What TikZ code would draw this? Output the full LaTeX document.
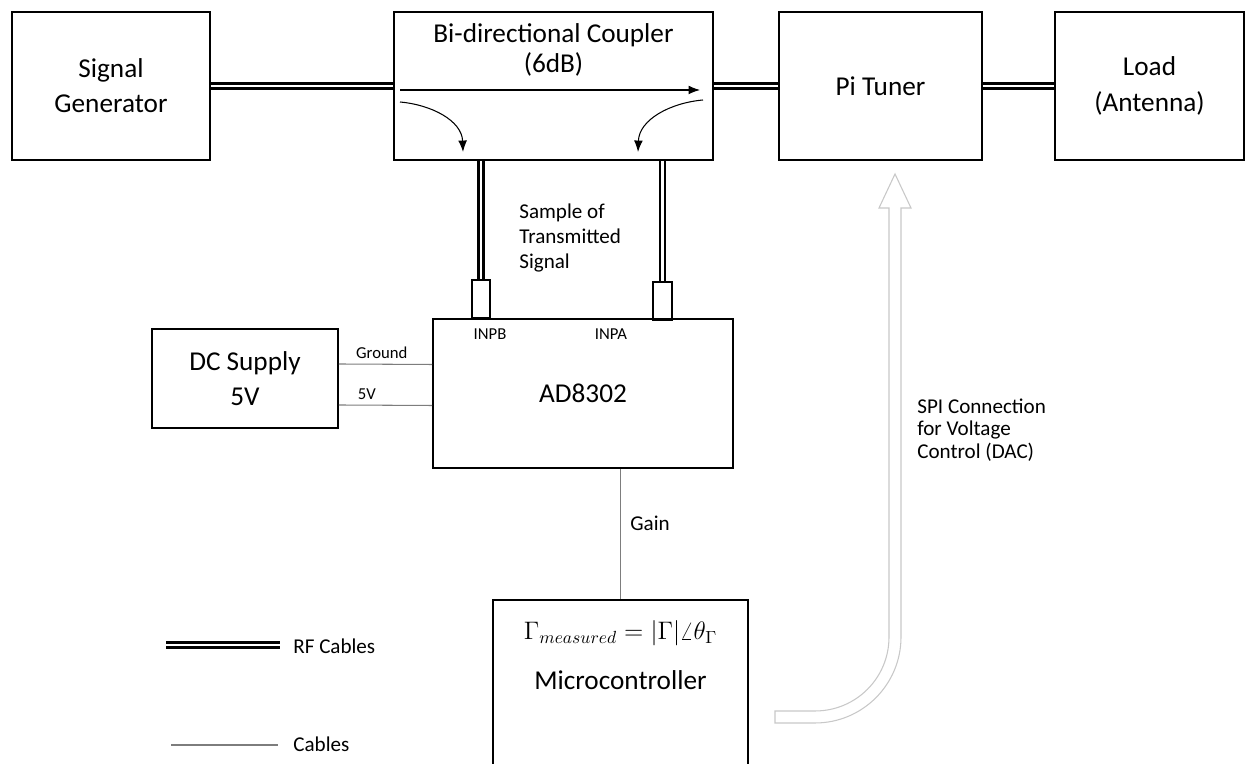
\documentclass[tikz,border=0pt]{standalone}
\usepackage{fontspec}
\setmainfont{Carlito}
\usetikzlibrary{arrows.meta}
\definecolor{cablegray}{RGB}{125,125,125}
\definecolor{spigray}{RGB}{200,200,200}

\tikzset{
  block/.style={draw, line width=1.1pt, inner sep=0pt, align=center,
    font=\fontsize{15.5}{20}\selectfont},
  port/.style={draw, line width=1.1pt, inner sep=0pt, anchor=south,
    minimum width=0.36cm, minimum height=0.76cm},
  rfcable/.style={double, double distance=1.5pt, line width=1.5pt},
  cable/.style={draw=cablegray, line width=0.6pt},
  flow/.style={line width=0.6pt, -{Latex[length=6.5pt,width=5pt]}},
  small/.style={font=\fontsize{12}{14}\selectfont, inner sep=0pt, align=left},
  tiny/.style={font=\fontsize{9.5}{11}\selectfont, inner sep=0pt}
}

\begin{document}
\begin{tikzpicture}

% Background
\useasboundingbox (0,0) rectangle (25.12,15.28);
\fill[white] (0,0) rectangle (25.12,15.28);

% RF chain
\node[block, minimum width=3.96cm, minimum height=2.96cm] (sg) at (2.22,13.56) {Signal\\Generator};
\node[block, minimum width=6.38cm, minimum height=2.96cm] (coupler) at (11.07,13.56) {};
\node[block, minimum width=4.06cm, minimum height=2.96cm] (pi) at (17.61,13.56) {Pi Tuner};
\node[block, minimum width=3.78cm, minimum height=2.96cm] (load) at (22.99,13.56) {Load\\(Antenna)};

\node[align=center, font=\fontsize{15.5}{17}\selectfont] (couplerlbl) at (11.07,14.28) {Bi-directional Coupler\\(6dB)};

\draw[rfcable] (sg.east) -- (coupler.west);
\draw[rfcable] (coupler.east) -- (pi.west);
\draw[rfcable] (pi.east) -- (load.west);

% Coupler paths
\draw[flow] (8.0,13.48) -- (14.0,13.48);
\draw[flow] (8.0,13.24) to[out=-5, in=92] (9.26,12.24);
\draw[flow] (14.06,13.28) to[out=185, in=88] (12.76,12.24);

% Detector
\node[block, minimum width=6.0cm, minimum height=2.98cm] (ad) at (11.66,7.41) {AD8302};
\node[port] (inb) at (9.62,8.9) {};
\node[port, minimum width=0.38cm] (ina) at (13.25,8.86) {};
\node[tiny] (inblbl) at (9.8,8.6) {INPB};
\node[tiny] (inalbl) at (12.22,8.6) {INPA};

\draw[rfcable] (coupler.south -| inb.north) -- (inb.north);
\draw[rfcable] (coupler.south -| ina.north) -- (ina.north);

\node[small, anchor=west] (samplelbl) at (10.38,10.52) {Sample of\\Transmitted\\Signal};

% Supply
\node[block, minimum width=3.72cm, minimum height=1.98cm] (dc) at (4.9,7.71) {DC Supply\\5V};
\draw[cable] ([yshift=0.29cm]dc.east) -- node[tiny, above=3pt, pos=0.46] {Ground} ([yshift=0.58cm]ad.west);
\draw[cable] ([yshift=-0.53cm]dc.east) -- node[tiny, above=3pt, pos=0.3] {5V} ([yshift=-0.24cm]ad.west);

% Microcontroller
\node[block, minimum width=5.1cm, minimum height=3.6cm] (mc) at (12.41,1.48) {};
\node[font=\fontsize{14}{16}\selectfont] (gammalbl) at (12.41,2.62) {$\Gamma_{measured} = |\Gamma|\angle\theta_\Gamma$};
\node[font=\fontsize{15.5}{18}\selectfont] (mclbl) at (12.41,1.68) {Microcontroller};

\draw[cable] (ad.south -| mc.north) -- (mc.north);
\node[small, anchor=west] (gainlbl) at (12.6,4.82) {Gain};

% SPI arrow (hollow)
\draw[spigray, line width=0.6pt]
  (17.9,11.8) -- (18.22,11.12) -- (18.02,11.12) -- (18.02,2.54)
  .. controls (18.02,1.59) and (17.25,0.82) .. (16.3,0.82)
  -- (15.5,0.82) -- (15.5,1.06) -- (16.3,1.06)
  .. controls (17.12,1.06) and (17.78,1.72) .. (17.78,2.54)
  -- (17.78,11.12) -- (17.58,11.12) -- cycle;
\node[small, anchor=west, font=\fontsize{12}{12.8}\selectfont] (spilbl) at (18.34,6.68) {SPI Connection\\for Voltage\\Control (DAC)};

% Legend
\coordinate (rfkeystart) at (3.32,2.38);
\node[small, anchor=west] (rfkey) at (5.86,2.36) {RF Cables};
\draw[rfcable] (rfkeystart) -- ([xshift=-0.26cm]rfkey.west |- rfkeystart);
\coordinate (cablekeystart) at (3.42,0.38);
\node[small, anchor=west] (cablekey) at (5.86,0.4) {Cables};
\draw[cable] (cablekeystart) -- ([xshift=-0.3cm]cablekey.west |- cablekeystart);

\end{tikzpicture}
\end{document}
